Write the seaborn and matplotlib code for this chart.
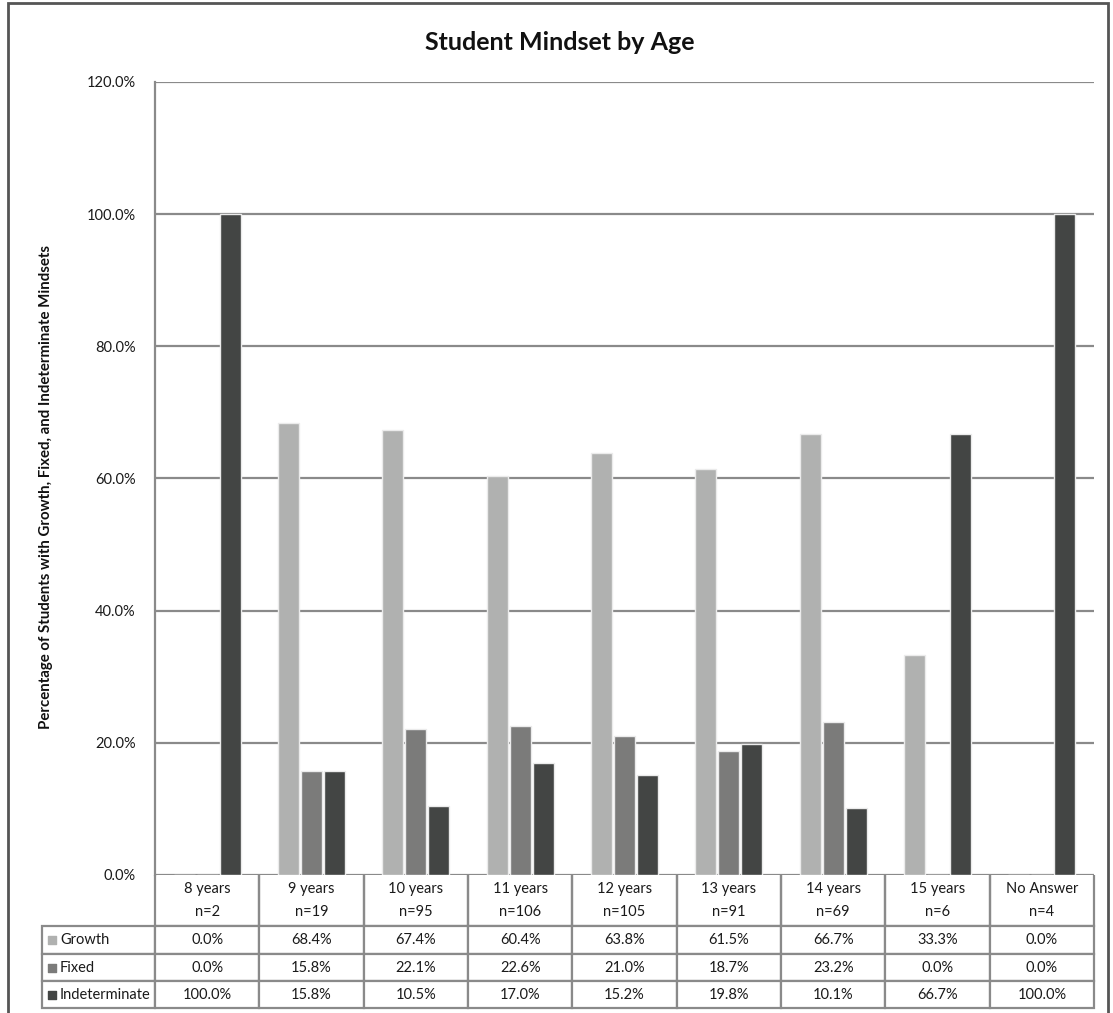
import matplotlib
matplotlib.use("Agg")
import matplotlib.pyplot as plt
from matplotlib.patches import Rectangle
from matplotlib.ticker import FuncFormatter
import seaborn as sns
import pandas as pd

# ---- data ----
age_groups = ["8 years", "9 years", "10 years", "11 years", "12 years",
              "13 years", "14 years", "15 years", "No Answer"]
n_counts = [2, 19, 95, 106, 105, 91, 69, 6, 4]
growth = [0.0, 68.4, 67.4, 60.4, 63.8, 61.5, 66.7, 33.3, 0.0]
fixed = [0.0, 15.8, 22.1, 22.6, 21.0, 18.7, 23.2, 0.0, 0.0]
indeterminate = [100.0, 15.8, 10.5, 17.0, 15.2, 19.8, 10.1, 66.7, 100.0]
mindsets = ["Growth", "Fixed", "Indeterminate"]
colors = ["#b0b1b0", "#7b7b7a", "#434544"]

series = {"Growth": growth, "Fixed": fixed, "Indeterminate": indeterminate}
df = pd.DataFrame(
    [(age, m, v) for m in mindsets for age, v in zip(age_groups, series[m])],
    columns=["age", "mindset", "pct"],
)

sns.set_theme(style="white")
plt.rcParams["font.family"] = ["Lato", "DejaVu Sans"]

TXT = "#1a1a1a"
FS = 10.5

W, H = 1113, 1013
fig = plt.figure(figsize=(W / 100, H / 100), dpi=100)

# axes placement in pixels
ax_l, ax_r, ax_t, ax_b = 155, 1094, 82, 875
ax = fig.add_axes([ax_l / W, 1 - ax_b / H, (ax_r - ax_l) / W, (ax_b - ax_t) / H])

sns.barplot(data=df, x="age", y="pct", hue="mindset", order=age_groups,
            hue_order=mindsets, palette=colors, width=0.66, gap=0.09,
            edgecolor="#ebebeb", linewidth=1.0, saturation=1.0,
            legend=False, ax=ax, zorder=3)

ax.set_ylim(0, 120)
ax.set_yticks([0, 20, 40, 60, 80, 100, 120])
ax.yaxis.set_major_formatter(FuncFormatter(lambda v, _: f"{v:.1f}%"))
ax.set_xlim(-0.5, len(age_groups) - 0.5)
ax.set_xticks([])
ax.set_xlabel("")
ax.set_ylabel("Percentage of Students with Growth, Fixed, and Indeterminate Mindsets",
              fontsize=10.8, fontweight="bold", color="#111111")
ax.yaxis.set_label_coords((53 - ax_l) / (ax_r - ax_l), (ax_b - 487) / (ax_b - ax_t))

ax.grid(axis="y", color="#8a8a8a", linewidth=1.6, zorder=0)
ax.grid(axis="x", visible=False)
for s in ["top", "right", "bottom"]:
    ax.spines[s].set_visible(False)
ax.spines["left"].set_color("#8a8a8a")
ax.spines["left"].set_linewidth(1.6)
ax.tick_params(axis="y", length=0, labelsize=FS, labelcolor=TXT, left=True, pad=14)

fig.text(560 / W, 1 - 42 / H, "Student Mindset by Age", fontsize=18,
         fontweight="bold", color="#111111", ha="center", va="center")

# ---- data table beneath the axes ----
axw = ax_r - ax_l
axh = ax_b - ax_t
tbl_left = 42
label_w = ax_l - tbl_left
col_w = axw / len(age_groups)
row_h = [51, 28, 27, 27]

header = [""] + [f"{a}\nn={n}" for a, n in zip(age_groups, n_counts)]
rows = [header]
for m in mindsets:
    rows.append([""] + [f"{v:.1f}%" for v in series[m]])

tbl = ax.table(cellText=rows, cellLoc="center",
               bbox=[(tbl_left - ax_l) / axw, -sum(row_h) / axh,
                     (ax_r - tbl_left) / axw, sum(row_h) / axh])
tbl.auto_set_font_size(False)
tbl.set_fontsize(FS)
for (r, c), cell in tbl.get_celld().items():
    cell.set_width(label_w if c == 0 else col_w)
    cell.set_height(row_h[r])
    cell.set_edgecolor("#8a8a8a")
    cell.set_linewidth(1.6)
    cell.get_text().set_color(TXT)
    if r == 0:
        cell.get_text().set_linespacing(1.9)
        if c == 0:
            cell.visible_edges = ""
        else:
            cell.visible_edges = "LRB"

# row labels with colour keys
trans = ax.transAxes
y_cursor = -row_h[0]
for m, col, h in zip(mindsets, colors, row_h[1:]):
    yc = (y_cursor - h / 2) / axh
    ax.scatter([(52 - ax_l) / axw], [yc], marker="s", s=36, color=col,
               transform=trans, clip_on=False, zorder=5)
    ax.text((60 - ax_l) / axw, yc, m, transform=trans, ha="left", va="center",
            fontsize=FS, color=TXT)
    y_cursor -= h

# outer chart frame
fig.patches.append(Rectangle((8 / W, 1 - 1015 / H), 1100 / W, 1012 / H,
                             transform=fig.transFigure, fill=False,
                             edgecolor="#555555", linewidth=2.0))

fig.savefig("out.png", dpi=100, facecolor="white")
